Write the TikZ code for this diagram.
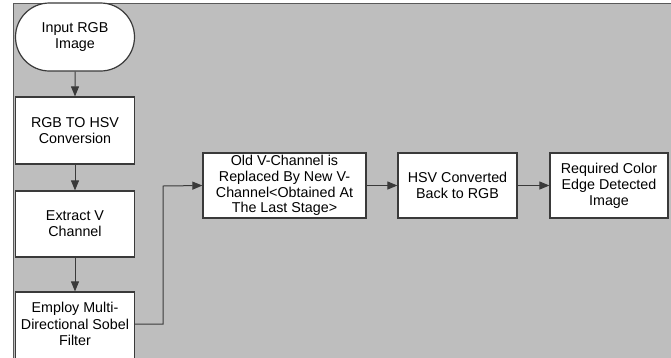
\documentclass[tikz,border=0pt]{standalone}
\usepackage{fontspec}
\setmainfont{Liberation Sans}
\usetikzlibrary{arrows.meta,shapes.misc}
\definecolor{bggray}{HTML}{BEBEBE}
\definecolor{edge}{HTML}{3A3A3A}
\tikzset{
  box/.style={draw=edge, line width=1.2pt, fill=white, align=center,
    font=\fontsize{14.3}{15.8}\selectfont, inner sep=0pt},
  term/.style={box, rounded rectangle},
  conn/.style={draw=edge, line width=1pt, -{Triangle[length=10pt,width=8pt]}}
}
\begin{document}
\begin{tikzpicture}[x=1pt,y=-1pt]
\useasboundingbox (0,0) rectangle (671,357);
\clip (0,0) rectangle (671,357);
\fill[white] (0,0) rectangle (671,357);
\fill[bggray] (13,3) rectangle (672,358);
\draw[gray!70!black, line width=1pt] (13,358) -- (13,3) -- (672,3);
\node[term, minimum width=119pt, minimum height=68pt] (in) at (75,37) {Input RGB\\Image};
\node[box, minimum width=119pt, minimum height=67pt] (hsv) at (75,130.5) {RGB TO HSV\\Conversion};
\node[box, minimum width=119pt, minimum height=66pt] (ext) at (75,224) {Extract V\\Channel};
\node[box, minimum width=119pt, minimum height=96pt] (sob) at (75,340) {};
\node[align=center, font=\fontsize{14.3}{16.7}\selectfont, inner sep=0pt] (sobt) at (75,324) {Employ Multi-\\Directional Sobel\\Filter};
\coordinate (sobr) at (134.5,324);
\node[box, minimum width=163pt, minimum height=65pt] (old) at (284.5,185.5) {Old V-Channel is\\Replaced By New V-\\Channel<Obtained At\\The Last Stage>};
\node[box, minimum width=119pt, minimum height=65pt] (back) at (457.5,185.5) {HSV Converted\\Back to RGB};
\node[box, minimum width=118pt, minimum height=65pt] (req) at (609,185.5) {Required Color\\Edge Detected\\Image};
\draw[conn] (in) -- (hsv);
\draw[conn] (hsv) -- (ext);
\draw[conn] (ext) -- (sob.north);
\draw[conn] (sobr) -| (163,186) -- (old.west);
\draw[conn] (old) -- (back);
\draw[conn] (back) -- (req);
\end{tikzpicture}
\end{document}
